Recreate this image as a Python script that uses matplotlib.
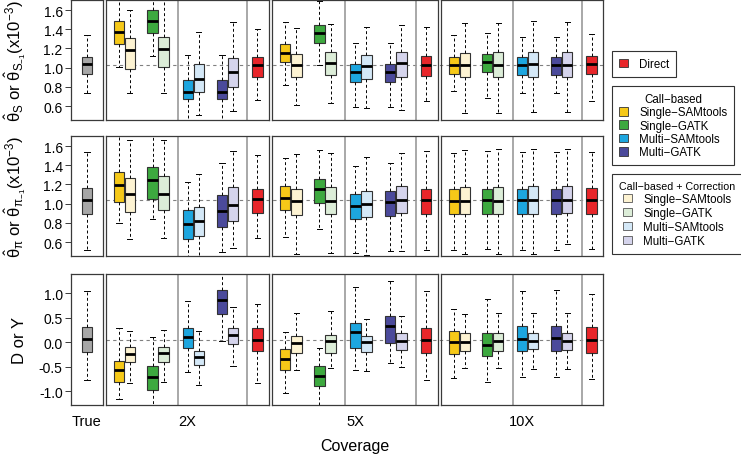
import matplotlib
matplotlib.use('Agg')
import matplotlib.pyplot as plt
from matplotlib.patches import Patch
from matplotlib import transforms

plt.rcParams['font.family'] = ['Liberation Sans', 'DejaVu Sans']
plt.rcParams['mathtext.fontset'] = 'custom'
plt.rcParams['mathtext.rm'] = 'Liberation Sans'
plt.rcParams['mathtext.it'] = 'Liberation Sans'
plt.rcParams['mathtext.bf'] = 'Liberation Sans:bold'

# ---------------------------------------------------------------------------
# data: each box is [lower whisker, q1, median, q3, upper whisker]
# order inside a coverage: S-SAM, S-SAM corr, S-GATK, S-GATK corr,
#                          M-SAM, M-SAM corr, M-GATK, M-GATK corr, Direct
# ---------------------------------------------------------------------------
coverages = ['2X', '5X', '10X']

ts_true = [0.739, 0.933, 1.041, 1.114, 1.34]
ts_2x = [[1.01, 1.242, 1.371, 1.489, 1.76], [0.732, 0.99, 1.183, 1.305, 1.60],
         [1.124, 1.364, 1.489, 1.597, 1.80], [0.732, 1.003, 1.19, 1.315, 1.72],
         [0.40, 0.669, 0.746, 0.871, 1.131], [0.506, 0.742, 0.885, 1.034, 1.374],
         [0.40, 0.669, 0.746, 0.871, 1.131], [0.551, 0.794, 0.958, 1.103, 1.472],
         [0.663, 0.902, 1.027, 1.114, 1.406]]
ts_5x = [[0.815, 1.055, 1.149, 1.242, 1.478], [0.61, 0.899, 1.024, 1.142, 1.416],
         [1.024, 1.253, 1.364, 1.44, 1.694], [0.628, 0.923, 1.044, 1.166, 1.451],
         [0.586, 0.85, 0.958, 1.034, 1.26], [0.576, 0.885, 1.013, 1.128, 1.426],
         [0.586, 0.85, 0.958, 1.034, 1.26], [0.558, 0.906, 1.044, 1.159, 1.444],
         [0.652, 0.916, 1.027, 1.121, 1.426]]
ts_10x = [[0.753, 0.933, 1.031, 1.114, 1.336], [0.524, 0.899, 1.027, 1.149, 1.461],
          [0.68, 0.951, 1.055, 1.142, 1.357], [0.524, 0.899, 1.027, 1.159, 1.461],
          [0.732, 0.923, 1.024, 1.107, 1.322], [0.534, 0.899, 1.034, 1.159, 1.485],
          [0.739, 0.923, 1.024, 1.107, 1.322], [0.541, 0.899, 1.027, 1.159, 1.478],
          [0.656, 0.933, 1.034, 1.121, 1.347]]

tp_true = [0.517, 0.888, 1.034, 1.1625, 1.5375]
tp_2x = [[0.798, 1.017, 1.19, 1.329, 1.78], [0.628, 0.9125, 1.097, 1.27, 1.66],
         [0.836, 1.051, 1.242, 1.381, 1.80], [0.645, 0.93, 1.103, 1.2875, 1.66],
         [0.40, 0.635, 0.7875, 0.93, 1.225], [0.42, 0.659, 0.819, 0.965, 1.312],
         [0.496, 0.756, 0.923, 1.086, 1.426], [0.5375, 0.819, 0.982, 1.173, 1.544],
         [0.642, 0.905, 1.044, 1.149, 1.503]]
tp_5x = [[0.649, 0.93, 1.062, 1.18, 1.475], [0.478, 0.878, 1.024, 1.149, 1.513],
         [0.739, 1.01, 1.149, 1.26, 1.555], [0.489, 0.892, 1.027, 1.173, 1.527],
         [0.485, 0.843, 0.978, 1.104, 1.392], [0.468, 0.86, 0.992, 1.131, 1.485],
         [0.506, 0.871, 1.017, 1.131, 1.426], [0.503, 0.905, 1.034, 1.183, 1.53],
         [0.513, 0.892, 1.041, 1.156, 1.544]]
tp_10x = [[0.513, 0.8875, 1.027, 1.149, 1.53], [0.478, 0.888, 1.024, 1.17, 1.555],
          [0.53, 0.895, 1.041, 1.156, 1.544], [0.478, 0.895, 1.024, 1.173, 1.565],
          [0.513, 0.8875, 1.034, 1.156, 1.5375], [0.478, 0.895, 1.034, 1.183, 1.572],
          [0.513, 0.8875, 1.034, 1.156, 1.5375], [0.583, 0.905, 1.034, 1.18, 1.572],
          [0.524, 0.895, 1.034, 1.163, 1.5375]]

dy_true = [-0.762, -0.204, 0.068, 0.306, 1.034]
dy_2x = [[-1.156, -0.816, -0.565, -0.374, 0.293], [-0.837, -0.395, -0.238, -0.102, 0.224],
         [-1.45, -0.966, -0.714, -0.49, 0.116], [-0.803, -0.408, -0.224, -0.102, 0.252],
         [-0.612, -0.122, 0.102, 0.293, 0.83], [-0.864, -0.456, -0.293, -0.17, 0.224],
         [0.034, 0.578, 0.85, 1.054, 1.6], [-0.49, -0.034, 0.156, 0.286, 0.714],
         [-0.83, -0.184, 0.054, 0.286, 0.782]]
dy_5x = [[-1.034, -0.565, -0.34, -0.136, 0.218], [-0.558, -0.224, -0.014, 0.136, 0.599],
         [-1.45, -0.898, -0.68, -0.476, -0.122], [-0.53, -0.218, 0.02, 0.15, 0.626],
         [-0.558, -0.122, 0.204, 0.395, 1.13], [-0.578, -0.19, 0.0, 0.122, 0.476],
         [-0.422, -0.014, 0.32, 0.531, 1.257], [-0.51, -0.156, 0.034, 0.184, 0.544],
         [-0.769, -0.224, 0.054, 0.293, 1.034]]
dy_10x = [[-0.735, -0.238, 0.014, 0.238, 0.667], [-0.524, -0.17, 0.014, 0.184, 0.578],
          [-0.816, -0.272, -0.054, 0.19, 0.871], [-0.524, -0.17, 0.034, 0.184, 0.592],
          [-0.714, -0.184, 0.068, 0.327, 1.034], [-0.544, -0.136, 0.034, 0.184, 0.599],
          [-0.714, -0.184, 0.088, 0.327, 1.054], [-0.544, -0.15, 0.034, 0.184, 0.599],
          [-0.748, -0.224, 0.054, 0.306, 0.986]]

true_means = [1.024, 1.0375, 0.048]

methods = ['Single\u2212SAMtools', 'Single\u2212GATK', 'Multi\u2212SAMtools', 'Multi\u2212GATK']
base_colors = ['#F6C918', '#3DA93F', '#1DA6DF', '#4B4A9B']
pale_colors = ['#FDF3D2', '#DCEDD8', '#D4E8F7', '#D5D4EC']
direct_color = '#E8262A'
true_color = '#A7A7A7'

rows = [
    dict(true=ts_true, cov=[ts_2x, ts_5x, ts_10x], ylim=(0.455, 1.705),
         yticks=[0.6, 0.8, 1.0, 1.2, 1.4, 1.6], lx=15,
         label=r'$\hat{\theta}_S$ or $\hat{\theta}_{S_{-1}}$(x10$^{-3}$)'),
    dict(true=tp_true, cov=[tp_2x, tp_5x, tp_10x], ylim=(0.455, 1.705),
         yticks=[0.6, 0.8, 1.0, 1.2, 1.4, 1.6], lx=15,
         label=r'$\hat{\theta}_\pi$ or $\hat{\theta}_{\pi_{-1}}$(x10$^{-3}$)'),
    dict(true=dy_true, cov=[dy_2x, dy_5x, dy_10x], ylim=(-1.28, 1.39),
         yticks=[-1.0, -0.5, 0.0, 0.5, 1.0], lx=19, label='D or Y'),
]

# layout in pixels
W, H = 741, 456
rows_px = [(1, 121), (137, 257), (275, 406)]
cols_px = [(71, 103), (106, 269), (272, 438), (441, 603)]

group_centers = [1.75, 4.95, 8.3, 11.55]
pair_offset = 0.52
direct_pos = 14.4
dividers = [6.85, 13.45]

fig = plt.figure(figsize=(W / 100, H / 100), dpi=100)


def px_axes(x0, x1, y0, y1):
    ax = fig.add_axes([x0 / W, 1 - y1 / H, (x1 - x0) / W, (y1 - y0) / H])
    ax.patch.set_visible(False)
    for s in ax.spines.values():
        s.set_color('#3a3a3a')
        s.set_linewidth(0.9)
    ax.set_xticks([])
    return ax


def to_stats(boxes):
    return [dict(whislo=b[0], q1=b[1], med=b[2], q3=b[3], whishi=b[4], fliers=[])
            for b in boxes]


def draw_boxes(ax, boxes, positions, colors):
    art = ax.bxp(to_stats(boxes), positions=positions, widths=0.98,
                 patch_artist=True, showfliers=False, manage_ticks=False,
                 boxprops=dict(edgecolor='#333333', linewidth=0.8),
                 whiskerprops=dict(color='black', linestyle=(0, (3, 2.5)), linewidth=0.7),
                 capprops=dict(color='black', linewidth=0.7),
                 medianprops=dict(color='black', linewidth=2.0))
    for patch, c in zip(art['boxes'], colors):
        patch.set_facecolor(c)


cov_positions = []
cov_colors = []
for gc, bc, pc in zip(group_centers, base_colors, pale_colors):
    cov_positions += [gc - pair_offset, gc + pair_offset]
    cov_colors += [bc, pc]
cov_positions.append(direct_pos)
cov_colors.append(direct_color)

for r, row in enumerate(rows):
    y0, y1 = rows_px[r]
    # True panel
    ax_t = px_axes(cols_px[0][0], cols_px[0][1], y0, y1)
    draw_boxes(ax_t, [row['true']], [1.52], [true_color])
    ax_t.set_xlim(0, 3.05)
    ax_t.set_ylim(*row['ylim'])
    ax_t.set_yticks(row['yticks'])
    ax_t.set_yticklabels(['%.1f' % v for v in row['yticks']])
    ax_t.tick_params(axis='y', labelsize=10, length=4, width=0.7, color='#3a3a3a', pad=2)

    first = None
    for c in range(3):
        ax = px_axes(cols_px[c + 1][0], cols_px[c + 1][1], y0, y1)
        if first is None:
            first = ax
        draw_boxes(ax, row['cov'][c], cov_positions, cov_colors)
        ax.set_xlim(0, 15.5)
        ax.set_ylim(*row['ylim'])
        ax.set_yticks([])
        for d in dividers:
            ax.axvline(d, color='#9a9a9a', linewidth=1.2, zorder=0.6)

    # dashed reference line spanning all coverage panels
    trans = transforms.blended_transform_factory(fig.transFigure, first.transData)
    first.plot([cols_px[1][0] / W, cols_px[3][1] / W], [true_means[r]] * 2,
               transform=trans, clip_on=False, color='#808080',
               linestyle=(0, (3, 3)), linewidth=0.8, zorder=0.5)

    fig.text(row['lx'] / W, 1 - (y0 + y1) / 2 / H, row['label'], rotation=90,
             ha='center', va='center', fontsize=12)

# x labels
xlabels = ['True'] + coverages
for (x0, x1), lab in zip(cols_px, xlabels):
    fig.text((x0 + x1) / 2 / W, 1 - 422 / H, lab, ha='center', va='center', fontsize=10.5)
fig.text((cols_px[2][0] + cols_px[2][1]) / 2 / W, 1 - 447 / H, 'Coverage',
         ha='center', va='center', fontsize=11.5)

# legends
leg_kw = dict(loc='upper left', fontsize=8.3, frameon=True,
              fancybox=False, framealpha=1, edgecolor='#333333', borderaxespad=0,
              handlelength=0.75, handleheight=0.75, handletextpad=1.0,
              borderpad=0.6)

h_direct = [Patch(facecolor=direct_color, edgecolor='#333333', linewidth=0.6)]
leg1 = fig.legend(h_direct, ['Direct'], bbox_to_anchor=(612 / W, 1 - 52 / H),
                  labelspacing=0.1, **leg_kw)

h_call = [Patch(facecolor=c, edgecolor='#333333', linewidth=0.6) for c in base_colors]
leg2 = fig.legend(h_call, methods, bbox_to_anchor=(612 / W, 1 - 87 / H),
                  title='Call\u2212based', title_fontsize=8.3, labelspacing=0.12, **leg_kw)

h_corr = [Patch(facecolor=c, edgecolor='#555555', linewidth=0.6) for c in pale_colors]
leg3 = fig.legend(h_corr, methods, bbox_to_anchor=(612 / W, 1 - 175 / H),
                  title='Call\u2212based + Correction', title_fontsize=7.7,
                  labelspacing=0.18, **leg_kw)
for leg in (leg1, leg2, leg3):
    leg.get_frame().set_linewidth(0.8)

fig.savefig('out.png', dpi=100)
